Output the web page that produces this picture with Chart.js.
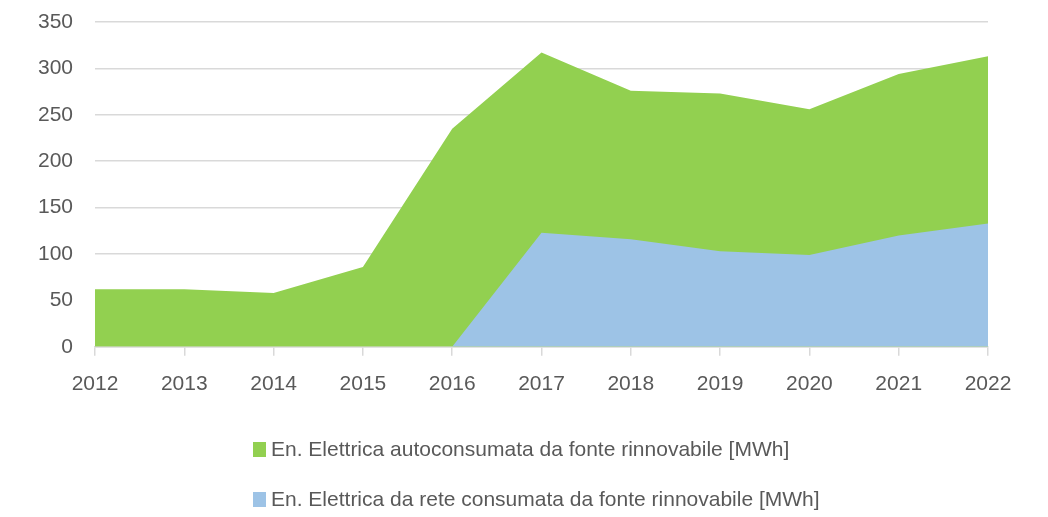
<!DOCTYPE html>
<html>
<head>
<meta charset="utf-8">
<script src="https://cdn.jsdelivr.net/npm/chart.js@4.4.1/dist/chart.umd.min.js"></script>
<style>
  html, body { margin: 0; padding: 0; background: #ffffff; }
  #wrap { position: relative; width: 1048px; height: 517px; }
  #legend { position: absolute; left: 253px; top: 437px; font-family: 'Liberation Sans', sans-serif; font-size: 21px; color: #595959; }
  .item { display: flex; align-items: center; height: 24px; margin-bottom: 26px; white-space: nowrap; }
  .box { width: 13px; height: 15px; margin-right: 5px; }
</style>
</head>
<body>
<div id="wrap">
  <canvas id="chart" width="1048" height="517"></canvas>
  <div id="legend"></div>
</div>
<script>
// Data
const years = ["2012", "2013", "2014", "2015", "2016", "2017", "2018", "2019", "2020", "2021", "2022"];
const autoconsumata = [62, 62, 58, 86, 235, 317, 276, 273, 256, 294, 313];
const daRete = [0, 0, 0, 0, 0, 123, 116, 103, 99, 120, 133];

const labelAuto = "En. Elettrica autoconsumata da fonte rinnovabile [MWh]";
const labelRete = "En. Elettrica da rete consumata da fonte rinnovabile [MWh]";

const textColor = "#595959";
const gridColor = "#d9d9d9";
const fontFamily = "'Liberation Sans', sans-serif";

const ctx = document.getElementById("chart");

// blue first so it is drawn on top of the green area
const myChart = new Chart(ctx, {
  type: "line",
  data: {
    labels: years,
    datasets: [
      {
        label: labelRete,
        data: daRete,
        backgroundColor: "#9dc3e6",
        borderColor: "#9dc3e6",
        borderWidth: 0,
        pointRadius: 0,
        fill: "origin",
        tension: 0,
      },
      {
        label: labelAuto,
        data: autoconsumata,
        backgroundColor: "#92d050",
        borderColor: "#92d050",
        borderWidth: 0,
        pointRadius: 0,
        fill: "origin",
        tension: 0,
      },
    ],
  },
  options: {
    responsive: false,
    animation: false,
    layout: { padding: { top: 0, right: 60, left: 0, bottom: 104 } },
    plugins: {
      tooltip: { enabled: false },
      legend: { display: false },
    },
    scales: {
      x: {
        offset: false,
        grid: {
          drawOnChartArea: false,
          drawTicks: true,
          tickLength: 9,
          color: gridColor,
          lineWidth: 1.5,
        },
        border: { color: gridColor, width: 1.5 },
        ticks: {
          color: textColor,
          font: { family: fontFamily, size: 21 },
          padding: 16,
          maxRotation: 0,
        },
      },
      y: {
        min: 0,
        max: 350,
        afterFit: (axis) => {
          axis.width = 95;
          axis.paddingTop = 22;
          axis.paddingBottom = 0;
        },
        grid: { color: gridColor, lineWidth: 1.5, drawTicks: false },
        border: { display: false },
        ticks: {
          stepSize: 50,
          color: textColor,
          padding: 22,
          font: { family: fontFamily, size: 21 },
        },
      },
    },
  },
});

// legend in html, green entry first like the reference
const legendEl = document.getElementById("legend");
[1, 0].forEach((i) => {
  const ds = myChart.data.datasets[i];
  const row = document.createElement("div");
  row.className = "item";
  row.innerHTML = `<span class="box" style="background:${ds.backgroundColor}"></span><span>${ds.label}</span>`;
  legendEl.appendChild(row);
});
</script>
</body>
</html>
